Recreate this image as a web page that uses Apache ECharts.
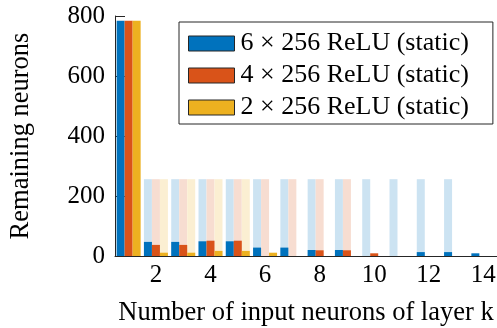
<!DOCTYPE html>
<html><head><meta charset="utf-8">
<script src="https://cdn.jsdelivr.net/npm/echarts@6/dist/echarts.min.js"></script>
<style>html,body{margin:0;padding:0;background:#fff}#c{width:497px;height:328px}</style>
</head><body><div id="c"></div>
<script>
const categories = ['1','2','3','4','5','6','7','8','9','10','11','12','13','14'];
const names = ['6 \u00d7 256 ReLU (static)', '4 \u00d7 256 ReLU (static)', '2 \u00d7 256 ReLU (static)'];
// remaining neurons (dark bars)
const net6 = [784, 47, 47, 49, 49, 28, 28, 20, 20, 0, 0, 13, 13, 9];
const net4 = [784, 37, 37, 51, 51, 0, 0, 19, 19, 9, 0, 0, 0, 0];
const net2 = [784, 11, 11, 17, 17, 11, 0, 0, 0, 0, 0, 0, 0, 0];
// layer width (light bars)
const full6 = [null, 256, 256, 256, 256, 256, 256, 256, 256, 256, 256, 256, 256, null];
const full4 = [null, 256, 256, 256, 256, 256, 256, 256, 256, null, null, null, null, null];
const full2 = [null, 256, 256, 256, 256, null, null, null, null, null, null, null, null, null];
const yTicks = [0, 200, 400, 600, 800];

const colors = ['#0072BD', '#D95319', '#EDB120'];
const lightColors = ['#CCE3F2', '#F7DDD1', '#FBEFD2'];
const axisColor = '#262626';
const font = 'Liberation Serif';
const fs = 25;
const nameFs = 26.5;

const chart = echarts.init(document.getElementById('c'), null, {renderer: 'canvas'});
const evenIdx = (i) => i % 2 === 1;
const mkBar = (name, data, color, axis, z) => ({
  name, type: 'bar', data, xAxisIndex: axis, barWidth: 8, barGap: '0%',
  itemStyle: {color}, z, animation: false, silent: true
});
chart.setOption({
  animation: false,
  grid: {left: 115, right: 0, top: 16, bottom: 72, containLabel: false, outerBoundsMode: 'none'},
  legend: {
    data: names, orient: 'vertical', left: 179, top: 22,
    itemWidth: 46, itemHeight: 15, itemGap: 3,
    padding: [7, 24, 2, 9],
    borderColor: axisColor, borderWidth: 1, backgroundColor: '#fff',
    itemStyle: {borderColor: axisColor, borderWidth: 1},
    textStyle: {fontFamily: font, fontSize: 26, color: '#000', padding: [0, 0, 0, 1], lineHeight: 29},
    icon: 'rect', selectedMode: false
  },
  xAxis: [{
    type: 'category', data: categories, boundaryGap: true,
    name: 'Number of input neurons of layer k', nameLocation: 'middle', nameGap: 44,
    nameTextStyle: {fontFamily: font, fontSize: nameFs, color: '#000'},
    axisLine: {lineStyle: {color: axisColor, width: 1}},
    axisTick: {inside: true, length: 10, alignWithLabel: true, interval: (i) => evenIdx(i), lineStyle: {color: axisColor}},
    axisLabel: {interval: (i) => evenIdx(i), margin: 7, fontFamily: font, fontSize: fs, color: '#000'},
    splitLine: {show: false}
  }, {
    type: 'category', data: categories, boundaryGap: true, show: false
  }],
  yAxis: {
    type: 'value', min: 0, max: 800, interval: 200,
    name: 'Remaining neurons', nameLocation: 'middle', nameGap: 80,
    nameTextStyle: {fontFamily: font, fontSize: nameFs, color: '#000'},
    axisLine: {show: true, lineStyle: {color: axisColor, width: 1}},
    axisTick: {show: true, inside: true, length: 10, lineStyle: {color: axisColor}},
    axisLabel: {margin: 10, fontFamily: font, fontSize: fs, color: '#000',
      formatter: (v) => yTicks.includes(v) ? String(v) : ''},
    splitLine: {show: false}
  },
  series: [
    mkBar('l6', full6, lightColors[0], 1, 1),
    mkBar('l4', full4, lightColors[1], 1, 1),
    mkBar('l2', full2, lightColors[2], 1, 1),
    mkBar(names[0], net6, colors[0], 0, 2),
    mkBar(names[1], net4, colors[1], 0, 2),
    mkBar(names[2], net2, colors[2], 0, 2)
  ]
});
</script></body></html>
